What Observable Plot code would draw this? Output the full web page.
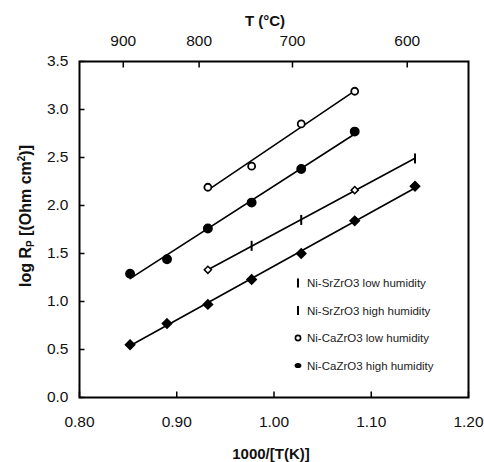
<!DOCTYPE html>
<html><head><meta charset="utf-8">
<script src="https://cdn.jsdelivr.net/npm/d3@7"></script>
<script src="https://cdn.jsdelivr.net/npm/@observablehq/plot@0.6"></script>
<style>
body{margin:0;background:#fff}
#chart{position:relative;width:484px;height:462px}
</style>
</head><body><div id="chart"></div>
<script>
// ---- data ----
const xTicks = [0.80, 0.90, 1.00, 1.10, 1.20];
const yTicks = [0.0, 0.5, 1.0, 1.5, 2.0, 2.5, 3.0, 3.5];
const topTickX = [0.845, 0.923, 1.019, 1.137];
const topTickLabels = ["900", "800", "700", "600"];
const legendNames = ["Ni-SrZrO3 low humidity", "Ni-SrZrO3 high humidity", "Ni-CaZrO3 low humidity", "Ni-CaZrO3 high humidity"];

const caLowX  = [0.932, 0.977, 1.028, 1.083];
const caLowY  = [2.19, 2.41, 2.85, 3.19];
const caHighX = [0.852, 0.890, 0.932, 0.977, 1.028, 1.083];
const caHighY = [1.29, 1.44, 1.76, 2.03, 2.38, 2.77];
const srLowX  = [0.932, 0.977, 1.028, 1.083, 1.145];
const srLowY  = [1.33, 1.58, 1.85, 2.16, 2.49];
const srLowMarker = ["diamond", "bar", "bar", "diamond", "bar"];
const srHighX = [0.852, 0.890, 0.932, 0.977, 1.028, 1.083, 1.145];
const srHighY = [0.55, 0.77, 0.97, 1.23, 1.50, 1.84, 2.20];

const rows = (xs, ys) => xs.map((x, i) => ({x, y: ys[i], i}));
const caLow = rows(caLowX, caLowY);
const caHigh = rows(caHighX, caHighY);
const srLow = rows(srLowX, srLowY);
const srHigh = rows(srHighX, srHighY);

const barSymbol = {draw(ctx, size) { const h = Math.sqrt(size / Math.PI); ctx.moveTo(0, -h); ctx.lineTo(0, h); }};
const tickUp = {draw(ctx) { ctx.moveTo(0, 0); ctx.lineTo(0, -6); }};
const tickDown = {draw(ctx) { ctx.moveTo(0, 0); ctx.lineTo(0, 6); }};
const tickRight = {draw(ctx) { ctx.moveTo(0, 0); ctx.lineTo(5, 0); }};
const font = "Liberation Sans, Arial, sans-serif";

const plot = Plot.plot({
  width: 484, height: 462,
  marginLeft: 79, marginRight: 16, marginTop: 61, marginBottom: 65,
  style: {fontFamily: font, fontSize: "15.5px", color: "#111", background: "#fff"},
  x: {domain: [0.8, 1.2]},
  y: {domain: [0, 3.5]},
  marks: [
    Plot.axisX(xTicks, {anchor: "bottom", tickSize: 0, tickPadding: 18, tickFormat: d3.format(".2f"), label: null}),
    Plot.axisX(topTickX, {anchor: "top", tickSize: 0, tickPadding: 16, tickFormat: (d, i) => topTickLabels[i], label: null}),
    Plot.axisY(yTicks, {anchor: "left", tickSize: 0, tickPadding: 11, tickFormat: d3.format(".1f"), label: null}),
    Plot.dot(xTicks, {x: d => d, y: 0, symbol: tickUp, fill: "none", stroke: "#000", strokeWidth: 1.5}),
    Plot.dot(topTickX, {x: d => d, y: 3.5, symbol: tickDown, fill: "none", stroke: "#000", strokeWidth: 1.5}),
    Plot.dot(yTicks, {x: 0.8, y: d => d, symbol: tickRight, fill: "none", stroke: "#000", strokeWidth: 1.5}),
    Plot.frame({stroke: "#000", strokeWidth: 2}),
    Plot.linearRegressionY(caLow, {x: "x", y: "y", ci: 0, stroke: "#000", strokeWidth: 1.6}),
    Plot.linearRegressionY(caHigh, {x: "x", y: "y", ci: 0, stroke: "#000", strokeWidth: 1.6}),
    Plot.linearRegressionY(srLow, {x: "x", y: "y", ci: 0, stroke: "#000", strokeWidth: 1.6}),
    Plot.linearRegressionY(srHigh, {x: "x", y: "y", ci: 0, stroke: "#000", strokeWidth: 1.6}),
    Plot.dot(caLow, {x: "x", y: "y", r: 3.5, fill: "#fff", stroke: "#000", strokeWidth: 1.8}),
    Plot.dot(caHigh, {x: "x", y: "y", r: 4.2, fill: "#000", stroke: "#000"}),
    Plot.dot(srLow.filter(d => srLowMarker[d.i] === "diamond"), {x: "x", y: "y", symbol: "diamond2", r: 3.2, fill: "#fff", stroke: "#000", strokeWidth: 1.5}),
    Plot.dot(srLow.filter(d => srLowMarker[d.i] === "bar"), {x: "x", y: "y", symbol: barSymbol, r: 5, fill: "none", stroke: "#000", strokeWidth: 2}),
    Plot.dot(srHigh, {x: "x", y: "y", symbol: "diamond2", r: 4.2, fill: "#000", stroke: "#000"})
  ]
});
document.getElementById("chart").appendChild(plot);

const svg = d3.select(plot);
// titles
svg.append("text").attr("x", 265).attr("y", 26).attr("text-anchor", "middle")
  .attr("font-family", font).attr("font-size", 15).attr("font-weight", "bold").attr("fill", "#111").text("T (°C)");
svg.append("text").attr("x", 271).attr("y", 459).attr("text-anchor", "middle")
  .attr("font-family", font).attr("font-size", 15).attr("font-weight", "bold").attr("fill", "#111").text("1000/[T(K)]");
const yl = svg.append("text").attr("transform", "translate(31,216) rotate(-90)").attr("text-anchor", "middle")
  .attr("font-family", font).attr("font-size", 16).attr("font-weight", "bold").attr("fill", "#111");
yl.append("tspan").text("log R");
yl.append("tspan").attr("font-size", 10).attr("dy", 3).text("P");
yl.append("tspan").attr("dy", -3).text(" [(Ohm cm");
yl.append("tspan").attr("font-size", 10).attr("dy", -6).text("2");
yl.append("tspan").attr("dy", 6).text(")]");

// legend
const lg = svg.append("g").attr("font-family", font).attr("font-size", 11.5).attr("fill", "#222").attr("text-anchor", "start");
const legY = [283, 310.5, 338, 365.5];
legendNames.forEach((name, i) => {
  const g = lg.append("g").attr("transform", `translate(298,${legY[i]})`);
  if (i < 2) g.append("line").attr("y1", -4.5).attr("y2", 4.5).attr("stroke", "#000").attr("stroke-width", 2);
  else if (i === 2) g.append("circle").attr("r", 2.6).attr("fill", "#fff").attr("stroke", "#000").attr("stroke-width", 1.6);
  else g.append("ellipse").attr("rx", 3.4).attr("ry", 2.6).attr("fill", "#000");
  g.append("text").attr("x", 9).attr("dy", "0.35em").attr("text-anchor", "start").text(name);
});
</script>
</body></html>
